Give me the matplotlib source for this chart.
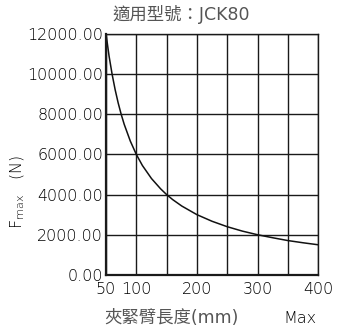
import matplotlib
matplotlib.use("Agg")
import matplotlib.pyplot as plt

# clamp arm length (mm) vs max clamping force (N)
arm_length = [50, 55, 60, 65, 70, 75, 80, 90, 100, 110, 125, 140, 150, 160,
              175, 200, 225, 250, 275, 300, 325, 350, 375, 400]
f_max = [12000, 10900, 10000, 9230, 8570, 8000, 7500, 6670, 6000, 5450, 4800,
         4290, 4000, 3750, 3430, 3000, 2670, 2400, 2180, 2000, 1850, 1710, 1600, 1500]

x_ticks = [50, 100, 200, 300, 400]
x_grid = [50, 100, 150, 200, 250, 300, 350, 400]
y_ticks = [0, 2000, 4000, 6000, 8000, 10000, 12000]

plt.rcParams['font.family'] = ['DejaVu Sans', 'Noto Sans CJK TC']
text_color = "#000000"
cjk_color = "#555555"

fig = plt.figure(figsize=(3.5, 3.28), dpi=100)
ax = fig.add_axes([0.303, 0.162, 0.606, 0.734])

ax.plot(arm_length, f_max, color="#111111", linewidth=1.1)

ax.set_xlim(50, 400)
ax.set_ylim(0, 12000)
ax.set_xticks(x_grid)
ax.set_xticklabels([str(v) if v in x_ticks else "" for v in x_grid])
ax.set_yticks(y_ticks)
ax.set_yticklabels([f"{v:.2f}" for v in y_ticks])
ax.tick_params(length=0, labelsize=11.5, colors=text_color, pad=2)
ax.tick_params(axis="x", pad=5)
for lab in ax.get_xticklabels() + ax.get_yticklabels():
    lab.set_fontweight(200)
ax.grid(True, color="#1a1a1a", linewidth=1.0)
for s in ax.spines.values():
    s.set_color("#1a1a1a")
    s.set_linewidth(1.0)
ax.spines["left"].set_linewidth(1.6)
ax.spines["bottom"].set_linewidth(1.6)

fig.text(0.517, 0.955, "適用型號：JCK80", ha="center", va="center", fontsize=12.5,
         color=cjk_color)
fig.text(0.49, 0.03, "夾緊臂長度(mm)", ha="center", va="center", fontsize=12.5,
         color=cjk_color)
fig.text(0.858, 0.03, "Max", ha="center", va="center", fontsize=11.5,
         color=text_color, fontweight=200)
fig.text(0.052, 0.415, r"F$_{\mathregular{max}}$   (N)", ha="center", va="center",
         rotation=90, fontsize=11.5, color=text_color, fontweight=200)

fig.savefig("out.png", dpi=100)
